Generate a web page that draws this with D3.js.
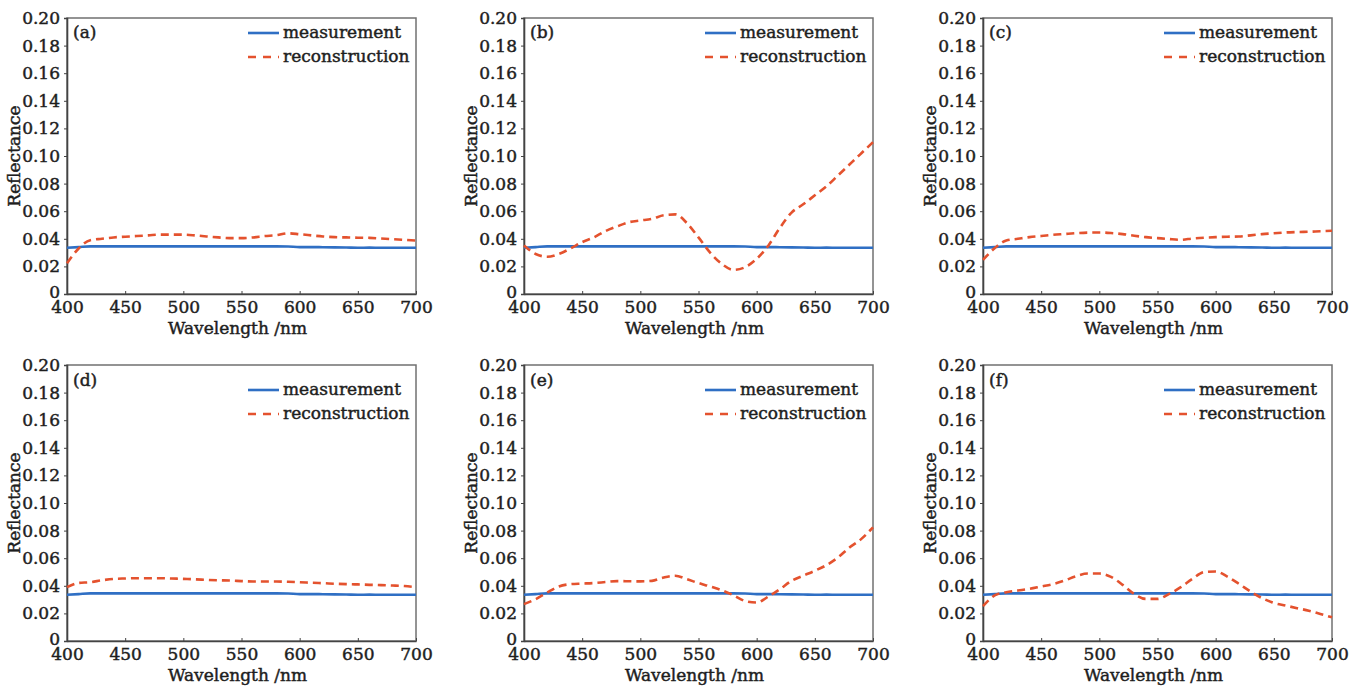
<!DOCTYPE html>
<html>
<head>
<meta charset="utf-8">
<script src="https://cdn.jsdelivr.net/npm/d3@7"></script>
<style>
  html, body { margin: 0; padding: 0; background: #fff; }
  svg text { font-family: "DejaVu Serif", "Liberation Serif", serif; fill: #1e1e1e; }
</style>
</head>
<body>
<svg id="chart" width="1360" height="688"></svg>
<script>
// ---- data ----
const wavelengths = d3.range(400, 701, 10);
const xTicks = [400, 450, 500, 550, 600, 650, 700];
const yTicks = [0, 0.02, 0.04, 0.06, 0.08, 0.10, 0.12, 0.14, 0.16, 0.18, 0.20];
const yTickLabels = ["0", "0.02", "0.04", "0.06", "0.08", "0.10", "0.12", "0.14", "0.16", "0.18", "0.20"];
const panelLabels = ["(a)", "(b)", "(c)", "(d)", "(e)", "(f)"];
const seriesNames = ["measurement", "reconstruction"];

const measurement = [0.0335, 0.034, 0.0345, 0.0345, 0.0345, 0.0345, 0.0345, 0.0345, 0.0345, 0.0345, 0.0345,
  0.0345, 0.0345, 0.0345, 0.0345, 0.0345, 0.0345, 0.0345, 0.0345, 0.0344, 0.034, 0.034, 0.0339,
  0.0338, 0.0337, 0.0335, 0.0336, 0.0335, 0.0335, 0.0335, 0.0335];

const reconA = [0.0223, 0.033, 0.039, 0.040, 0.041, 0.0415, 0.042, 0.0425, 0.043, 0.043, 0.043,
  0.0425, 0.0417, 0.041, 0.0405, 0.0405, 0.041, 0.042, 0.0426, 0.044, 0.0433, 0.0425, 0.0417,
  0.0412, 0.041, 0.0408, 0.0407, 0.0402, 0.0397, 0.0392, 0.0387];
const reconB = [0.0352, 0.029, 0.027, 0.029, 0.033, 0.0376, 0.041, 0.0456, 0.049, 0.052, 0.0533,
  0.0545, 0.057, 0.0577, 0.0514, 0.041, 0.030, 0.0218, 0.0175, 0.0194, 0.0255, 0.035, 0.048,
  0.059, 0.065, 0.0715, 0.078, 0.086, 0.094, 0.102, 0.110];
const reconC = [0.0247, 0.0332, 0.0388, 0.040, 0.0412, 0.042, 0.0429, 0.0435, 0.0441, 0.0445, 0.0446,
  0.0442, 0.0434, 0.0422, 0.0412, 0.0405, 0.0398, 0.0393, 0.0402, 0.0408, 0.0412, 0.0415, 0.0417,
  0.0425, 0.0434, 0.044, 0.0446, 0.0449, 0.0451, 0.0455, 0.0458];
const reconD = [0.039, 0.0421, 0.0426, 0.044, 0.045, 0.0453, 0.0455, 0.0455, 0.0455, 0.0453, 0.045,
  0.0447, 0.0443, 0.044, 0.0438, 0.0434, 0.0431, 0.0431, 0.0431, 0.0429, 0.0426, 0.0422, 0.0419,
  0.0415, 0.0412, 0.041, 0.0407, 0.0405, 0.0402, 0.0398, 0.039];
const reconE = [0.0267, 0.0303, 0.0352, 0.0395, 0.0412, 0.0416, 0.042, 0.0427, 0.0434, 0.0433, 0.0432,
  0.0436, 0.046, 0.0473, 0.0448, 0.042, 0.0395, 0.0368, 0.0332, 0.029, 0.0279, 0.0322, 0.0376,
  0.0436, 0.0473, 0.0509, 0.055, 0.0606, 0.0679, 0.074, 0.0824];
const reconF = [0.0252, 0.033, 0.0354, 0.0366, 0.0378, 0.0395, 0.0412, 0.0438, 0.047, 0.0489, 0.0489,
  0.0465, 0.0407, 0.0341, 0.0305, 0.0305, 0.0341, 0.039, 0.045, 0.0499, 0.0504, 0.0467, 0.0414,
  0.0358, 0.031, 0.0276, 0.0257, 0.0238, 0.022, 0.0196, 0.0172];
const reconstructions = [reconA, reconB, reconC, reconD, reconE, reconF];

// ---- layout ----
const panelLefts = [67, 524, 983];
const panelTops = [18, 365];
const pw = 349, ph = 276;
const blue = "#2f6fc4", red = "#e4522e";
const fs = 17, ink = "#1e1e1e", inkStroke = 0.45;

const svg = d3.select("#chart");

const x = d3.scaleLinear().domain([400, 700]).range([0, pw]);
const y = d3.scaleLinear().domain([0, 0.20]).range([ph, 0]);
const line = d3.line().x((d) => x(d[0])).y((d) => y(d[1])).curve(d3.curveMonotoneX);

function styleText(sel) {
  return sel.attr("font-size", fs).attr("fill", ink)
    .style("font-family", "'DejaVu Serif', serif")
    .attr("stroke", ink).attr("stroke-width", inkStroke);
}

reconstructions.forEach((recon, i) => {
  const col = i % 3, row = Math.floor(i / 3);
  const g = svg.append("g").attr("transform", `translate(${panelLefts[col]},${panelTops[row]})`);

  // frame
  g.append("rect").attr("x", 0).attr("y", 0).attr("width", pw).attr("height", ph)
    .attr("fill", "none").attr("stroke", "#707070").attr("stroke-width", 1.5);

  // y axis (outward ticks)
  const yAxis = d3.axisLeft(y).tickValues(yTicks).tickSize(3).tickPadding(4)
    .tickFormat((d, k) => yTickLabels[k]);
  const ya = g.append("g").call(yAxis);
  ya.select(".domain").attr("stroke", "#444").attr("stroke-width", 1.6);
  ya.selectAll(".tick line").attr("stroke", "#444");
  styleText(ya.selectAll(".tick text"));
  ya.selectAll(".tick text").filter((d) => d === 0).attr("dy", "0.2em");

  // x axis (inward ticks)
  const xAxis = d3.axisBottom(x).tickValues(xTicks).tickSizeInner(-3).tickSizeOuter(0).tickPadding(7)
    .tickFormat(d3.format("d"));
  const xa = g.append("g").attr("transform", `translate(0,${ph})`).call(xAxis);
  xa.select(".domain").attr("stroke", "#444").attr("stroke-width", 1.6);
  xa.selectAll(".tick line").attr("stroke", "#444");
  styleText(xa.selectAll(".tick text"));

  // axis titles
  styleText(g.append("text")).attr("x", pw / 2 - 4).attr("y", ph + 40).attr("text-anchor", "middle")
    .text("Wavelength /nm");
  styleText(g.append("text")).attr("transform", `translate(-47,${ph / 2}) rotate(-90)`)
    .attr("text-anchor", "middle").text("Reflectance");

  // series
  const measPts = wavelengths.map((w, k) => [w, measurement[k]]);
  const recPts = wavelengths.map((w, k) => [w, recon[k]]);
  g.append("path").datum(measPts).attr("d", line).attr("fill", "none")
    .attr("stroke", blue).attr("stroke-width", 2.6);
  g.append("path").datum(recPts).attr("d", line).attr("fill", "none")
    .attr("stroke", red).attr("stroke-width", 2.6).attr("stroke-dasharray", "8,5");

  // panel label
  styleText(g.append("text")).attr("x", 6).attr("y", row === 0 ? 20 : 21).text(panelLabels[i]);

  // legend
  const ly0 = row === 0 ? 15 : 25, ldy = 24;
  const lx0 = 181, lx1 = 212, ltx = 216;
  seriesNames.forEach((name, k) => {
    const ly = ly0 + k * ldy;
    g.append("line").attr("x1", lx0).attr("x2", lx1).attr("y1", ly).attr("y2", ly)
      .attr("stroke", k === 0 ? blue : red).attr("stroke-width", 2.6)
      .attr("stroke-dasharray", k === 0 ? null : "8,7");
    styleText(g.append("text")).attr("x", ltx).attr("y", ly + 5).text(name);
  });
});
</script>
</body>
</html>
